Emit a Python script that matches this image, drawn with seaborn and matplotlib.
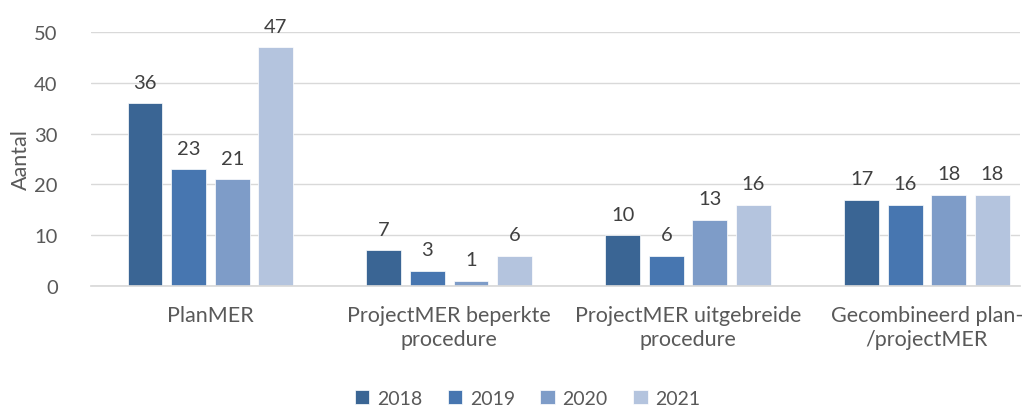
import matplotlib
matplotlib.use("Agg")
import matplotlib.pyplot as plt
import seaborn as sns
import pandas as pd

categories = ["PlanMER", "ProjectMER beperkte\nprocedure", "ProjectMER uitgebreide\nprocedure", "Gecombineerd plan-\n/projectMER"]
years = ["2018", "2019", "2020", "2021"]
values = {
    "2018": [36, 7, 10, 17],
    "2019": [23, 3, 6, 16],
    "2020": [21, 1, 13, 18],
    "2021": [47, 6, 16, 18],
}
colors = ["#3A6594", "#4776B0", "#7E9CC8", "#B4C4DE"]

rows = []
for y in years:
    for c, v in zip(categories, values[y]):
        rows.append({"cat": c, "year": y, "val": v})
df = pd.DataFrame(rows)

sns.set_theme(style="white")
plt.rcParams['font.family'] = ['Lato', 'DejaVu Sans']
txt = "#595959"

fig = plt.figure(figsize=(10.29, 4.10), dpi=100)
ax = fig.add_axes([91/1029, 1-287/410, (1020-91)/1029, (287-33)/410])

sns.barplot(data=df, x="cat", y="val", hue="year", palette=colors, ax=ax,
            width=0.73, gap=0.2, saturation=1, edgecolor="white", linewidth=0.5)

for cont in ax.containers:
    ax.bar_label(cont, padding=9, fontsize=14.5, color="#404040", clip_on=False)

ax.set_ylim(0, 50)
ax.set_xlim(-0.5, 3.39)
ax.set_yticks(range(0, 51, 10))
ax.yaxis.grid(True, color="#D9D9D9", linewidth=1)
ax.set_axisbelow(True)
for s in ["top", "right", "left"]:
    ax.spines[s].set_visible(False)
ax.spines["bottom"].set_color("#D9D9D9")
ax.tick_params(axis="y", length=0, labelsize=14.5, colors=txt, pad=24)
ax.tick_params(axis="x", length=0, labelsize=15.5, colors=txt, pad=14)
for lbl in ax.get_xticklabels():
    lbl.set_linespacing(1.2)
ax.set_xlabel("")
ax.set_ylabel("Aantal", fontsize=15.5, color=txt, labelpad=2)

leg = ax.legend(loc="upper center", bbox_to_anchor=(0.47, -0.34), ncol=4, frameon=False,
                fontsize=14, handlelength=0.75, handleheight=0.75, handletextpad=0.4, columnspacing=1.3)
for t in leg.get_texts():
    t.set_color(txt)

fig.savefig("out.png", dpi=100)
